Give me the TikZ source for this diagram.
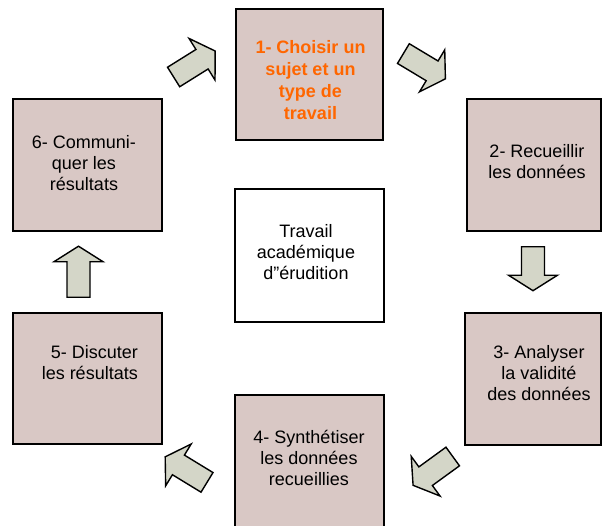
\documentclass[tikz,border=0pt]{standalone}
\usepackage{fontspec}
\setmainfont{Liberation Sans}
\definecolor{boxfill}{RGB}{217,200,197}
\definecolor{arrfill}{RGB}{212,214,200}
\definecolor{orangetxt}{RGB}{255,102,0}
\tikzset{
  stepbox/.style={draw=black, line width=1.5pt, fill=boxfill, inner sep=0pt, rectangle},
  centerbox/.style={draw=black, line width=1.5pt, fill=white, inner sep=0pt, rectangle},
  boxtext/.style={align=center, inner sep=0pt, font=\fontsize{18}{21}\selectfont},
  boldtext/.style={align=center, inner sep=0pt, text=orangetxt, font=\fontsize{18}{22}\selectfont\bfseries},
  blockarrow/.style={draw=black, line width=1.4pt, fill=arrfill, line join=miter}
}
\newcommand\myblockarrow[4]{%
  \draw[blockarrow, shift={(#1,#2)}, rotate=#3]
    ({-#4/2},-11.5) -- ({#4/2-15.5},-11.5) -- ({#4/2-15.5},-24.5) -- ({#4/2},0)
    -- ({#4/2-15.5},24.5) -- ({#4/2-15.5},11.5) -- ({-#4/2},11.5) -- cycle;}
\begin{document}
\begin{tikzpicture}[x=1pt,y=-1pt]
\clip (0,0) rectangle (602,525);
\fill[white] (0,0) rectangle (602,525);
% boxes
\node[stepbox, minimum width=147pt, minimum height=131pt] (b1) at (309.5,74.5) {};
\node[stepbox, minimum width=134pt, minimum height=132pt] (b2) at (534,165) {};
\node[stepbox, minimum width=136pt, minimum height=132pt] (b3) at (533,379) {};
\node[stepbox, minimum width=149pt, minimum height=140pt] (b4) at (309.5,465) {};
\node[stepbox, minimum width=149pt, minimum height=131pt] (b5) at (87.5,378.5) {};
\node[stepbox, minimum width=149pt, minimum height=132pt] (b6) at (87.5,165) {};
\node[centerbox, minimum width=149pt, minimum height=133pt] (c) at (309.5,255.5) {};
% texts
\node[boldtext] (t1) at (310.5,80) {1- Choisir un\\sujet et un\\type de\\travail};
\node[boxtext] (t2) at (537,162) {2- Recueillir\\les données};
\node[boxtext] (t3) at (539,373.5) {3- Analyser\\la validité\\des données};
\node[boxtext] (t4) at (309,457.5) {4- Synthétiser\\les données\\recueillies};
\node[boxtext, align=right, anchor=east] (t5) at (138,362.5) {5- Discuter\\les résultats};
\node[boxtext] (t6) at (84,163.5) {6- Communi-\\quer les\\résultats};
\node[boxtext] (tc) at (306,252) {Travail\\académique\\d\char34 érudition};
% block arrows
\myblockarrow{194.4}{64}{32}{49}
\myblockarrow{424.4}{66.2}{-31}{49}
\myblockarrow{533}{268.7}{-90}{44}
\myblockarrow{432.9}{470.9}{216}{49}
\myblockarrow{186.1}{469.6}{148.6}{49}
\myblockarrow{78.5}{271.7}{90}{51}
\end{tikzpicture}
\end{document}
